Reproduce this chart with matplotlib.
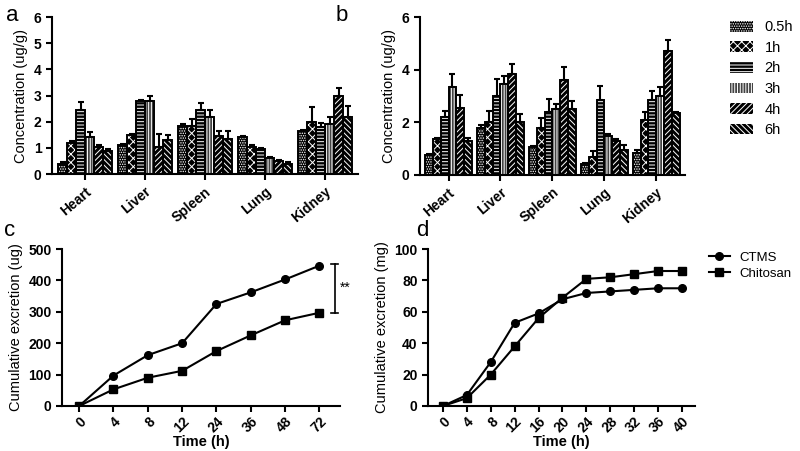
import numpy as np
import matplotlib.pyplot as plt
import matplotlib.patches as mpatches

plt.rcParams['font.family'] = ['Liberation Sans', 'DejaVu Sans']
plt.rcParams['hatch.linewidth'] = 0.7

organs = ['Heart', 'Liver', 'Spleen', 'Lung', 'Kidney']
times = ['0.5h', '1h', '2h', '3h', '4h', '6h']

# panel a: rows = time points, columns = organs
conc_a = [
    [0.40, 1.10, 1.85, 1.40, 1.65],
    [1.20, 1.50, 1.85, 1.05, 2.00],
    [2.45, 2.80, 2.45, 0.95, 1.80],
    [1.40, 2.80, 2.20, 0.60, 1.90],
    [1.05, 1.05, 1.45, 0.50, 3.00],
    [0.90, 1.30, 1.35, 0.40, 2.20],
]
err_a = [
    [0.05, 0.05, 0.05, 0.05, 0.05],
    [0.05, 0.05, 0.25, 0.05, 0.55],
    [0.30, 0.05, 0.25, 0.05, 0.15],
    [0.20, 0.20, 0.25, 0.05, 0.30],
    [0.05, 0.50, 0.20, 0.05, 0.30],
    [0.05, 0.20, 0.30, 0.05, 0.40],
]
# panel b
conc_b = [
    [0.75, 1.80, 1.05, 0.40, 0.85],
    [1.35, 2.00, 1.80, 0.70, 2.10],
    [2.20, 3.00, 2.40, 2.85, 2.85],
    [3.35, 3.45, 2.50, 1.50, 3.00],
    [2.55, 3.85, 3.60, 1.30, 4.70],
    [1.30, 2.00, 2.50, 0.95, 2.35],
]
err_b = [
    [0.05, 0.10, 0.05, 0.05, 0.10],
    [0.05, 0.45, 0.35, 0.20, 0.30],
    [0.25, 0.65, 0.50, 0.55, 0.35],
    [0.50, 0.30, 0.20, 0.05, 0.35],
    [0.50, 0.35, 0.50, 0.05, 0.45],
    [0.10, 0.30, 0.30, 0.20, 0.05],
]

time_c = ['0', '4', '8', '12', '24', '36', '48', '72']
ctms_c = [0, 97, 162, 200, 325, 362, 403, 447]
chit_c = [0, 53, 90, 112, 175, 225, 273, 297]

time_d = [0, 4, 8, 12, 16, 20, 24, 28, 32, 36, 40]
ctms_d = [0, 7, 28, 53, 59, 68, 72, 73, 74, 75, 75]
chit_d = [0, 5, 20, 38, 56, 69, 81, 82, 84, 86, 86]

hatches = ['.......', 'xxxx', '-----', '||||||', '//////', '\\\\\\\\\\\\']
faces = ['black', 'black', 'black', '#444444', 'black', 'black']

fig = plt.figure(figsize=(8, 4.51), dpi=100)


def style(ax):
    for s in ['top', 'right']:
        ax.spines[s].set_visible(False)
    for s in ['left', 'bottom']:
        ax.spines[s].set_linewidth(1.5)
    ax.tick_params(width=1.5, length=4, labelsize=10)
    for lab in ax.get_xticklabels() + ax.get_yticklabels():
        lab.set_fontweight('bold')


def bar_panel(ax, conc, err, yticks):
    x = np.arange(len(organs))
    w = 0.15
    for i in range(len(times)):
        pos = x + (i - 2.5) * w
        v = np.array(conc[i])
        e = np.array(err[i])
        ax.errorbar(pos, v, yerr=[np.zeros_like(e), e], fmt='none',
                    ecolor='black', elinewidth=1.5, capsize=2.5, capthick=1.5, zorder=1)
        ax.bar(pos, v, w, color=faces[i], edgecolor='white', hatch=hatches[i],
               linewidth=0, zorder=2)
        ax.bar(pos, v, w, facecolor='none', edgecolor='black', linewidth=1.4,
               zorder=3)
    ax.set_xlim(-0.55, 4.55)
    ax.set_ylim(0, 6)
    ax.set_yticks(yticks)
    ax.set_xticks(x)
    ax.set_xticklabels(organs, rotation=40, ha='right', rotation_mode='anchor')
    ax.set_ylabel('Concentration (ug/g)', fontsize=10.5)
    style(ax)


ax_a = fig.add_axes([0.065, 0.614, 0.3825, 0.348])
bar_panel(ax_a, conc_a, err_a, [0, 1, 2, 3, 4, 5, 6])

ax_b = fig.add_axes([0.525, 0.612, 0.331, 0.350])
bar_panel(ax_b, conc_b, err_b, [0, 2, 4, 6])
leg_handles = [mpatches.Patch(facecolor=faces[i], edgecolor='white', hatch=hatches[i], linewidth=0)
               for i in range(len(times))]
fig.legend(leg_handles, times, loc='upper left', bbox_to_anchor=(0.912, 0.955),
           frameon=False, fontsize=10.5, handlelength=1.6, handleheight=0.75,
           labelspacing=0.45, handletextpad=0.8, borderpad=0, borderaxespad=0)

# panel c
ax_c = fig.add_axes([0.0775, 0.0998, 0.3475, 0.348])
xc = np.arange(len(time_c))
ax_c.plot(xc, ctms_c, '-o', color='black', lw=1.5, ms=5.5)
ax_c.plot(xc, chit_c, '-s', color='black', lw=1.5, ms=5.5)
ax_c.set_xlim(-0.5, 7.6)
ax_c.set_ylim(0, 500)
ax_c.set_yticks(range(0, 501, 100))
ax_c.set_xticks(xc)
ax_c.set_xticklabels(time_c, rotation=45, ha='right', rotation_mode='anchor')
ax_c.set_ylabel('Cumulative excretion (ug)', fontsize=10.5)
ax_c.set_xlabel('Time (h)', fontsize=10.5, fontweight='bold', labelpad=0)
ax_c.plot([7.45, 7.45], [chit_c[-1], ctms_c[-1] + 5], color='black', lw=1.2, clip_on=False)
ax_c.plot([7.35, 7.55], [chit_c[-1], chit_c[-1]], color='black', lw=1.2, clip_on=False)
ax_c.plot([7.35, 7.55], [ctms_c[-1] + 5, ctms_c[-1] + 5], color='black', lw=1.2, clip_on=False)
ax_c.text(7.6, 375, '**', fontsize=10, va='center', ha='left')
style(ax_c)
ax_c.tick_params(axis='x', pad=2)

# panel d
ax_d = fig.add_axes([0.535, 0.0998, 0.334, 0.348])
ax_d.plot(time_d, ctms_d, '-o', color='black', lw=1.5, ms=5.5, label='CTMS')
ax_d.plot(time_d, chit_d, '-s', color='black', lw=1.5, ms=5.5, label='Chitosan')
ax_d.set_xlim(-2.5, 42.2)
ax_d.set_ylim(0, 100)
ax_d.set_yticks(range(0, 101, 20))
ax_d.set_xticks(time_d)
ax_d.set_xticklabels([str(t) for t in time_d], rotation=45, ha='right', rotation_mode='anchor')
ax_d.set_ylabel('Cumulative excretion (mg)', fontsize=10.5)
ax_d.set_xlabel('Time (h)', fontsize=10.5, fontweight='bold', labelpad=0)
ax_d.legend(loc='upper left', bbox_to_anchor=(1.05, 0.985), frameon=False, fontsize=9.5,
            handlelength=1.6, labelspacing=0.3, handletextpad=0.7, borderpad=0, borderaxespad=0)
style(ax_d)
ax_d.tick_params(axis='x', pad=2)

for txt, x, y in [('a', 0.008, 0.965), ('b', 0.42, 0.965), ('c', 0.005, 0.49), ('d', 0.52, 0.49)]:
    fig.text(x, y, txt, fontsize=16, va='center', ha='left')

fig.savefig('out.png', dpi=100)
